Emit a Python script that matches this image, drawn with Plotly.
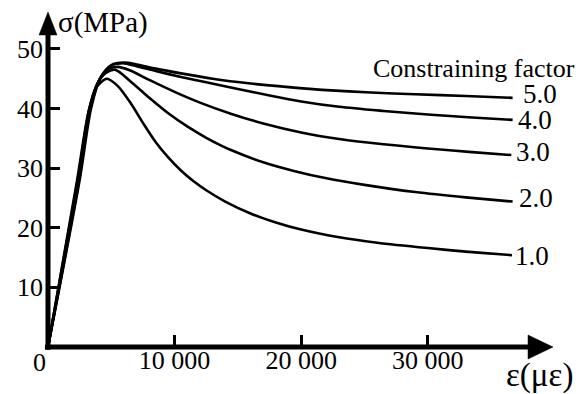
import plotly.graph_objects as go

# ---------------- data (strain in microstrain, stress in MPa) ----------------
factors = ["1.0", "2.0", "3.0", "4.0", "5.0"]

eps_1 = [0, 2300, 3200, 3800, 4650, 5500, 6500, 7500, 8500, 9500, 10500, 11500,
         12500, 14000, 16000, 18000, 20000, 23000, 26000, 30000, 33000, 36650]
sig_1 = [0, 28.0, 39.5, 43.5, 45.0, 43.8, 41.0, 37.6, 34.4, 31.8, 29.6, 27.8,
         26.3, 24.4, 22.4, 20.9, 19.7, 18.4, 17.5, 16.6, 16.0, 15.4]

eps_2 = [0, 2350, 3250, 3900, 4600, 5300, 6500, 8000, 9500, 11000, 12500, 14500,
         17000, 19500, 22000, 25000, 29000, 33000, 36700]
sig_2 = [0, 28.0, 39.8, 44.2, 46.0, 46.5, 44.6, 41.8, 39.2, 37.0, 35.1, 33.0,
         31.0, 29.5, 28.3, 27.2, 26.0, 25.1, 24.4]

eps_3 = [0, 2400, 3300, 4000, 4800, 5500, 6500, 8000, 10000, 12000, 14500, 17000,
         20000, 23000, 26500, 30000, 33500, 36600]
sig_3 = [0, 28.0, 40.0, 44.6, 46.6, 47.0, 46.4, 44.8, 42.8, 41.0, 39.1, 37.5,
         36.0, 34.9, 34.0, 33.3, 32.7, 32.2]

eps_4 = [0, 2450, 3350, 4100, 5000, 5900, 7000, 8500, 10500, 12500, 15000, 17500,
         20000, 23000, 26500, 30000, 33500, 36700]
sig_4 = [0, 28.0, 40.0, 45.0, 47.2, 47.6, 47.1, 46.3, 45.3, 44.4, 43.3, 42.2,
         41.2, 40.3, 39.6, 39.0, 38.5, 38.1]

eps_5 = [0, 2500, 3400, 4150, 5000, 6000, 7000, 8500, 10500, 13000, 16000, 19000,
         22000, 25500, 29000, 33000, 36700]
sig_5 = [0, 28.0, 40.0, 45.2, 47.3, 47.7, 47.4, 46.7, 45.9, 45.0, 44.2, 43.6,
         43.1, 42.7, 42.4, 42.1, 41.8]

x_tickvals = [10000, 20000, 30000]
x_ticktext = ["10 000", "20 000", "30 000"]
y_tickvals = [10, 20, 30, 40, 50]
X_MAX = 39890
Y_MAX = 56.2

FONT = "Liberation Serif"

series = [(eps_1, sig_1), (eps_2, sig_2), (eps_3, sig_3), (eps_4, sig_4), (eps_5, sig_5)]
label_dx = [1, 4, 3, 3, 8]
label_dy = [-1, 4, 3, 0, 4]

fig = go.Figure()
for (eps, sig), f, dx, dy in zip(series, factors, label_dx, label_dy):
    fig.add_trace(go.Scatter(
        x=eps, y=sig, mode="lines",
        line=dict(color="black", width=2.6, shape="spline", smoothing=0.8),
        hoverinfo="skip", showlegend=False, cliponaxis=False))
    fig.add_annotation(x=eps[-1], y=sig[-1], text=f, showarrow=False,
                       xanchor="left", yanchor="middle", xshift=dx, yshift=dy,
                       font=dict(family=FONT, size=27, color="black"))

# axis lines and arrow heads
fig.add_shape(type="line", xref="paper", yref="paper", x0=-0.006, x1=0.98, y0=0, y1=0,
              line=dict(color="black", width=5))
fig.add_shape(type="line", xref="paper", yref="paper", x0=0, x1=0, y0=-0.008, y1=0.97,
              line=dict(color="black", width=5))
fig.add_shape(type="path", xref="paper", yref="paper", xsizemode="pixel", ysizemode="pixel",
              xanchor=1, yanchor=0, path="M 0 0 L -25 12 L -25 -12 Z",
              fillcolor="black", line=dict(color="black", width=0.5))
fig.add_shape(type="path", xref="paper", yref="paper", xsizemode="pixel", ysizemode="pixel",
              xanchor=0, yanchor=1, path="M 0 0 L -9 -23 L 9 -23 Z",
              fillcolor="black", line=dict(color="black", width=0.5))

# texts
fig.add_annotation(x=0, y=Y_MAX, text="σ(MPa)", showarrow=False, xanchor="left",
                   yanchor="middle", xshift=8, yshift=-10,
                   font=dict(family=FONT, size=29, color="black"))
fig.add_annotation(x=X_MAX, y=46.3, text="Constraining factor", showarrow=False,
                   xanchor="right", yanchor="middle", xshift=24, yshift=3,
                   font=dict(family=FONT, size=26, color="black"))
fig.add_annotation(x=X_MAX, y=0, text="ε(με)", showarrow=False, xanchor="right",
                   yanchor="middle", xshift=22, yshift=-28,
                   font=dict(family=FONT, size=33, color="black"))
fig.add_annotation(x=0, y=0, text="0", showarrow=False, xanchor="right",
                   yanchor="top", xshift=0, yshift=1,
                   font=dict(family=FONT, size=26, color="black"))

fig.update_layout(
    width=583, height=394,
    margin=dict(l=48, r=30, t=12, b=47),
    plot_bgcolor="white", paper_bgcolor="white",
    font=dict(family=FONT, size=26, color="black"),
    showlegend=False,
)
fig.update_xaxes(range=[0, X_MAX], tickvals=x_tickvals, ticktext=x_ticktext,
                 ticks="inside", ticklen=12, tickwidth=2.5, tickcolor="black",
                 ticklabelstandoff=-5,
                 showgrid=False, zeroline=False, showline=False,
                 tickfont=dict(family=FONT, size=26, color="black"))
fig.update_yaxes(range=[0, Y_MAX], tickvals=y_tickvals,
                 ticks="inside", ticklen=12, tickwidth=2.5, tickcolor="black",
                 ticklabelstandoff=4,
                 showgrid=False, zeroline=False, showline=False,
                 tickfont=dict(family=FONT, size=26, color="black"))

fig.write_html("out.html")
